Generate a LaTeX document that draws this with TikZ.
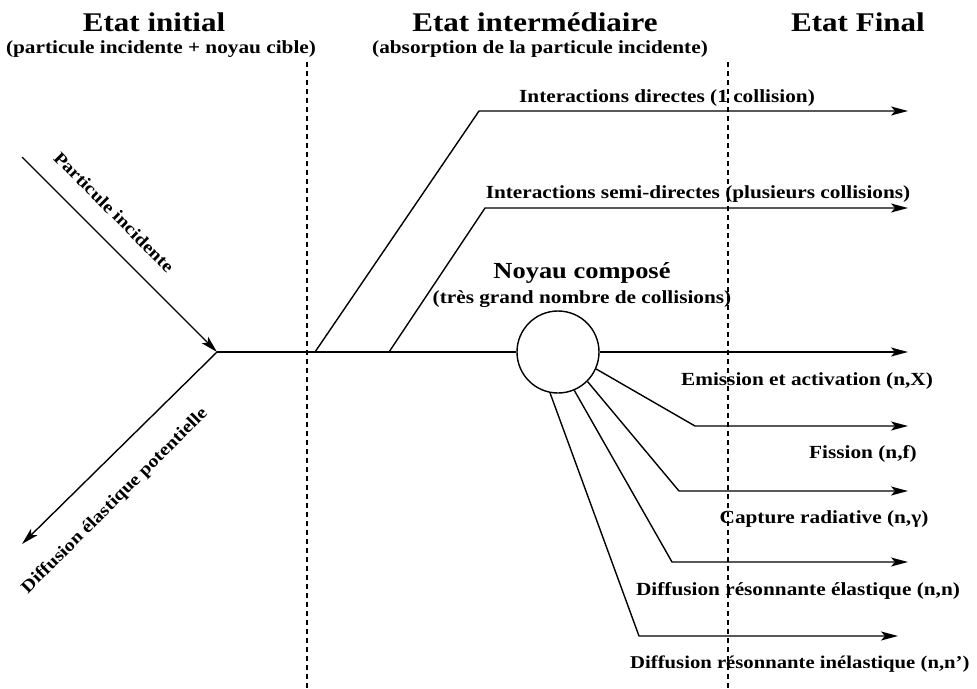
\documentclass[tikz,border=0pt]{standalone}
\usepackage{fontspec}
\setmainfont{Liberation Serif}[FakeStretch=1.15]
\usetikzlibrary{arrows.meta}
\newcommand\ttlfont{\fontsize{27}{30}\selectfont\bfseries}
\newcommand\lblfont{\fontsize{18.5}{21}\selectfont\bfseries}
\newcommand\lblsmfont{\fontsize{18}{21}\selectfont\bfseries}
\newcommand\nkfont{\fontsize{23}{26}\selectfont\bfseries}
\newcommand\diagfont{\fontsize{17.5}{20}\selectfont\bfseries}
\begin{document}
\begin{tikzpicture}[x=1pt,y=-1pt,
  ln/.style={line width=1.4pt, line join=round},
  arr/.style={ln, -{Stealth[length=17pt,width=9pt,inset=4pt]}},
  dsh/.style={line width=1.1pt, dash pattern=on 5pt off 4pt},
  ttl/.style={font=\ttlfont, inner sep=0pt, anchor=base},
  lbl/.style={font=\lblfont, inner sep=0pt, anchor=base},
  nkt/.style={font=\nkfont, inner sep=0pt, anchor=base},
  diag/.style={font=\diagfont, inner sep=0pt}]
\useasboundingbox (0,0) rectangle (977,688);
\fill[white] (0,0) rectangle (977,688);
% headings
\node[ttl] (t1) at (154,31) {Etat initial};
\node[lbl] (s1) at (161,53) {(particule incidente + noyau cible)};
\node[ttl] (t2) at (535,31) {Etat intermédiaire};
\node[lbl] (s2) at (540,53) {(absorption de la particule incidente)};
\node[ttl] (t3) at (858,31) {Etat Final};
% dashed separators
\coordinate (d1t) at (307,62); \coordinate (d1b) at (307,688);
\coordinate (d2t) at (728,62); \coordinate (d2b) at (728,688);
\draw[dsh] (d1t) -- (d1b);
\draw[dsh] (d2t) -- (d2b);
% points
\coordinate (pin) at (22,157);
\coordinate (j) at (217,352);
\coordinate (pout) at (22,544);
\coordinate (b1) at (315,352);
\coordinate (b2) at (389,352);
\coordinate (k1) at (479,111);
\coordinate (e1) at (908,111);
\coordinate (k2) at (485,208);
\coordinate (e2) at (908,208);
\node[draw, circle, line width=1.4pt, minimum size=82pt, inner sep=0pt] (nc) at (558,352) {};
\coordinate (e3) at (908,352);
\coordinate (k4) at (695,426); \coordinate (e4) at (908,426);
\coordinate (k5) at (679,491); \coordinate (e5) at (908,491);
\coordinate (k6) at (672,562); \coordinate (e6) at (908,562);
\coordinate (k7) at (639,636); \coordinate (e7) at (898,636);
% connectors
\draw[arr] (pin) -- (j);
\draw[arr] (j) -- (pout);
\draw[ln] (j) -- (nc.west);
\draw[arr] (b1) -- (k1) -- (e1);
\draw[arr] (b2) -- (k2) -- (e2);
\draw[arr] (nc.east) -- (e3);
\draw[arr] (nc.-24) -- (k4) -- (e4);
\draw[arr] (nc.-45) -- (k5) -- (e5);
\draw[arr] (nc.-67) -- (k6) -- (e6);
\draw[arr] (nc.-101) -- (k7) -- (e7);
% labels
\node[lbl] (l1) at (667,102) {Interactions directes (1 collision)};
\node[lbl] (l2) at (698,198) {Interactions semi-directes (plusieurs collisions)};
\node[nkt] (nk) at (582,278) {Noyau composé};
\node[lbl] (nks) at (582,303) {(très grand nombre de collisions)};
\node[lbl] (l3) at (807,385) {Emission et activation (n,X)};
\node[lbl] (l4) at (863,458) {Fission (n,f)};
\node[lbl] (l5) at (824,523) {Capture radiative (n,γ)};
\node[lbl] (l6) at (798,595) {Diffusion résonnante élastique (n,n)};
\node[lbl, font=\lblsmfont, anchor=base west] (l7) at (630,668) {Diffusion résonnante inélastique (n,n')};
\node[diag, rotate=-45] (pi) at (114,212) {Particule incidente};
\node[diag, rotate=45] (de) at (115,501) {Diffusion élastique potentielle};
\end{tikzpicture}
\end{document}
